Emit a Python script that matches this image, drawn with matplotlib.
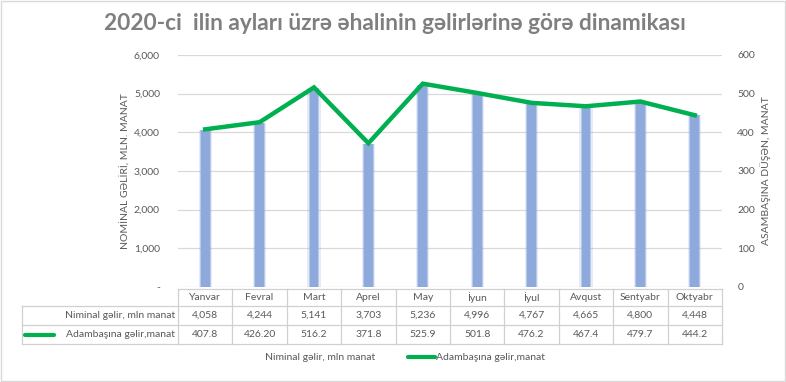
import matplotlib
matplotlib.use("Agg")
import matplotlib.pyplot as plt
from matplotlib.patches import Rectangle
from matplotlib.lines import Line2D

plt.rcParams['font.family'] = ['Lato', 'DejaVu Sans']

months = ["Yanvar", "Fevral", "Mart", "Aprel", "May", "İyun", "İyul", "Avqust", "Sentyabr", "Oktyabr"]
nominal = [4058, 4244, 5141, 3703, 5236, 4996, 4767, 4665, 4800, 4448]
nominal_labels = ["4,058", "4,244", "5,141", "3,703", "5,236", "4,996", "4,767", "4,665", "4,800", "4,448"]
per_capita = [407.8, 426.2, 516.2, 371.8, 525.9, 501.8, 476.2, 467.4, 479.7, 444.2]
per_capita_labels = ["407.8", "426.20", "516.2", "371.8", "525.9", "501.8", "476.2", "467.4", "479.7", "444.2"]
left_ticks = [0, 1000, 2000, 3000, 4000, 5000, 6000]
left_tick_labels = ["-", "1,000", "2,000", "3,000", "4,000", "5,000", "6,000"]
right_ticks = [0, 100, 200, 300, 400, 500, 600]

title = "2020-ci  ilin ayları üzrə əhalinin gəlirlərinə görə dinamikası"
series1_name = "Niminal gəlir, mln manat"
series2_name = "Adambaşına gəlir,manat"
left_label = "NOMİNAL GƏLİRİ, MLN. MANAT"
right_label = "ASAMBAŞINA DÜŞƏN, MANAT"

W, H = 786, 382
BAR = "#8EA9DB"
GREEN = "#00B050"
TXT = "#595959"
GRID = "#D9D9D9"

fig = plt.figure(figsize=(W / 100, H / 100), dpi=100)
fig.patch.set_facecolor("white")

# overlay in pixel coordinates (y downward)
ov = fig.add_axes([0, 0, 1, 1])
ov.set_xlim(0, W)
ov.set_ylim(H, 0)
ov.axis("off")
ov.add_patch(Rectangle((0.5, 0.5), W - 1.5, H - 1.5, fill=False, edgecolor="#D9D9D9", lw=1))

L, R, T, B = 178, 722, 55, 287
ax = fig.add_axes([L / W, (H - B) / H, (R - L) / W, (B - T) / H])
ax.set_facecolor("none")
x = list(range(len(months)))
for w, a in [(0.24, 0.22), (0.2, 0.5), (0.16, 1.0)]:
    ax.bar(x, nominal, width=w, color=BAR, alpha=a, lw=0, zorder=2)
ax.set_xlim(-0.5, len(months) - 0.5)
ax.set_ylim(0, 6000)
ax.set_yticks(left_ticks)
ax.set_yticklabels(left_tick_labels, color=TXT, fontsize=7.5)
ax.tick_params(axis="y", length=0, pad=13)
ax.set_xticks([])
ax.grid(axis="y", color=GRID, lw=0.9, zorder=0)
for s in ax.spines.values():
    s.set_visible(False)
ax.set_ylabel(left_label, color=TXT, fontsize=7.5, labelpad=2.5)

ax2 = ax.twinx()
ax2.plot(x, per_capita, color=GREEN, lw=3.2, zorder=3, solid_joinstyle="miter")
ax2.set_ylim(0, 600)
ax2.set_yticks(right_ticks)
ax2.set_yticklabels([str(t) for t in right_ticks], color=TXT, fontsize=7.5)
ax2.tick_params(axis="y", length=0, pad=11)
for s in ax2.spines.values():
    s.set_visible(False)
ax2.set_ylabel(right_label, color=TXT, fontsize=7.5, labelpad=4)

fig.text(0.502, 1 - 24 / H, title, ha="center", va="center", fontsize=16.3,
         fontweight="bold", color="#7F7F7F")

# data table
n = len(months)
cw = (R - L) / n
y0, y1, y2, y3 = 289, 306, 325, 344
TL = 22
lc = "#D0D0D0"
ov.add_line(Line2D([L, R], [y0, y0], color=lc, lw=0.9))
for yy in (y1, y2, y3):
    ov.add_line(Line2D([TL, R], [yy, yy], color=lc, lw=0.9))
ov.add_line(Line2D([TL, TL], [y1, y3], color=lc, lw=0.9))
for i in range(n + 1):
    xx = L + i * cw
    ov.add_line(Line2D([xx, xx], [y0, y3], color=lc, lw=0.9))
for i in range(n):
    cx = L + (i + 0.5) * cw
    ov.text(cx, (y0 + y1) / 2, months[i], ha="center", va="center", fontsize=7.5, color=TXT)
    ov.text(cx, (y1 + y2) / 2, nominal_labels[i], ha="center", va="center", fontsize=7.5, color=TXT)
    ov.text(cx, (y2 + y3) / 2, per_capita_labels[i], ha="center", va="center", fontsize=7.5, color=TXT)
ov.text(L - 3, (y1 + y2) / 2, series1_name, ha="right", va="center", fontsize=7.5, color=TXT)
ov.text(L - 3, (y2 + y3) / 2, series2_name, ha="right", va="center", fontsize=7.5, color=TXT)
ov.add_line(Line2D([25, 54], [(y2 + y3) / 2 + 0.5] * 2, color=GREEN, lw=3, solid_capstyle="round"))

# legend
ly = 357
ov.text(265, ly, series1_name, ha="left", va="center", fontsize=7.5, color=TXT)
ov.add_line(Line2D([408, 435], [ly, ly], color=GREEN, lw=3, solid_capstyle="round"))
ov.text(436, ly, series2_name, ha="left", va="center", fontsize=7.5, color=TXT)

fig.savefig("out.png", dpi=100, facecolor="white")
